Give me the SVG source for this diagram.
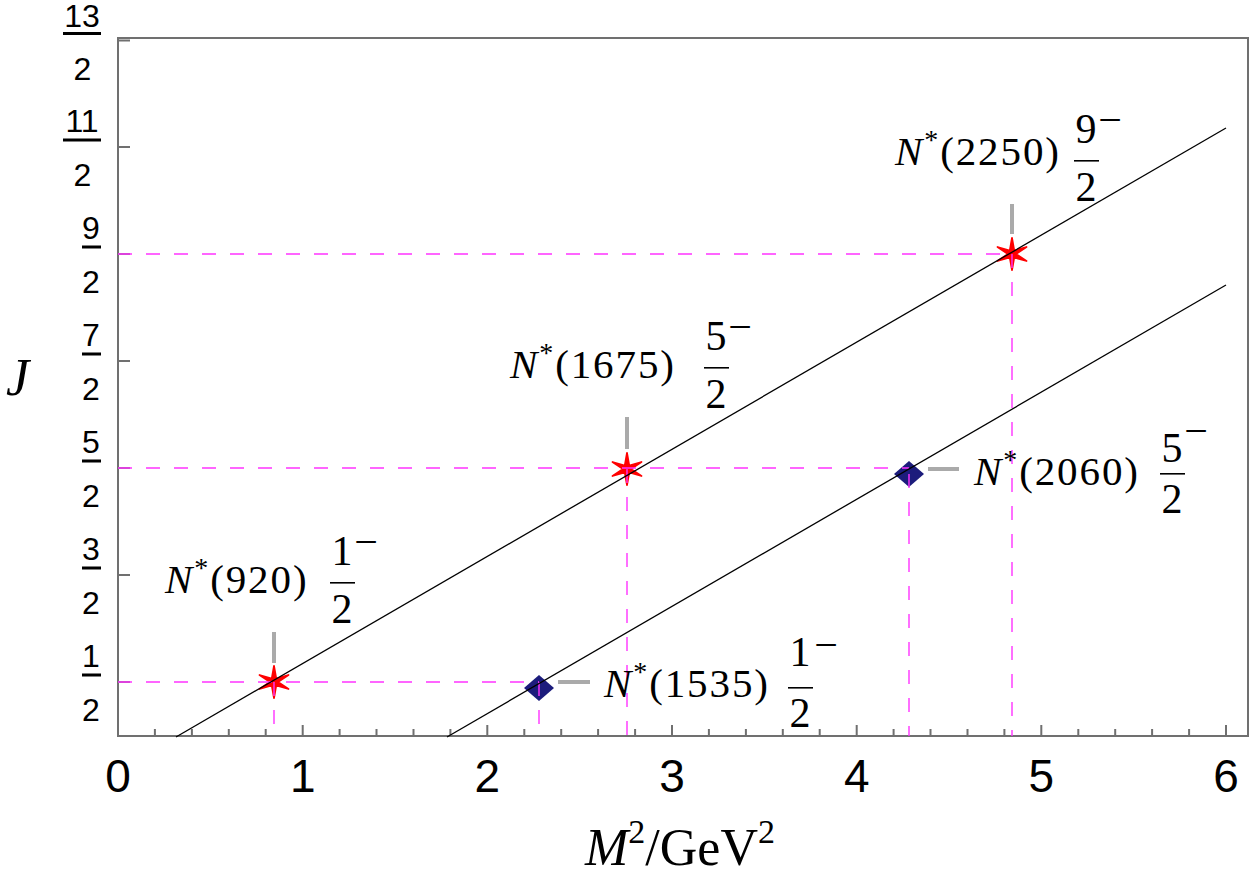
<svg xmlns="http://www.w3.org/2000/svg" width="1250" height="888" viewBox="0 0 1250 888">
<style>
.frame{fill:none;stroke:#707070;stroke-width:2}
.tick{stroke:#707070;stroke-width:2}
.dash{stroke:#ff33ff;stroke-width:1.4;stroke-dasharray:14 14;fill:none}
.fit{stroke:#000;stroke-width:1.3;fill:none}
.lead{stroke:#aaaaaa;stroke-width:4}
.yt{font-family:"Liberation Sans",Arial,sans-serif;font-size:32px;fill:#000;text-anchor:middle}
.xt{font-family:"Liberation Sans",Arial,sans-serif;font-size:46px;fill:#000;text-anchor:middle}
.lbl{font-family:"Liberation Serif","Times New Roman",serif;font-size:41px;letter-spacing:1.9px;fill:#000}
.fr{font-family:"Liberation Serif","Times New Roman",serif;font-size:42px;fill:#000;text-anchor:middle}
.ax{font-family:"Liberation Serif","Times New Roman",serif;font-size:52px;fill:#000}
</style>
<defs>
<path id="star" d="M0,-16 L2.2,-3.5 L14.5,-7 L4,0 L14.5,7 L2.2,3.5 L0,16 L-2.2,3.5 L-14.5,7 L-4,0 L-14.5,-7 L-2.2,-3.5 Z" fill="#ff0000" stroke="#ff0000" stroke-width="1.8" stroke-linejoin="round"/>
<path id="dia" d="M0,-13 L15,0 L0,13 L-15,0 Z" fill="#1c1c7c"/>
</defs>
<rect width="1250" height="888" fill="#fff"/>

<g id="axes">
<rect class="frame" x="118" y="38" width="1130" height="698"/>
<g id="xticks">
<path class="tick" d="M118,736V725M302.7,736V725M487.3,736V725M672,736V725M856.7,736V725M1041.3,736V725M1226,736V725"/>
<path class="tick" d="M154.9,736V729M191.9,736V729M228.8,736V729M265.7,736V729M339.6,736V729M376.5,736V729M413.5,736V729M450.4,736V729M524.3,736V729M561.2,736V729M598.1,736V729M635.1,736V729M708.9,736V729M745.9,736V729M782.8,736V729M819.7,736V729M893.6,736V729M930.5,736V729M967.5,736V729M1004.4,736V729M1078.3,736V729M1115.2,736V729M1152.1,736V729M1189.1,736V729"/>
</g>
<g id="yticks">
<path class="tick" d="M118,682H130M118,575H130M118,468H130M118,361H130M118,254H130M118,147H130M118,40.5H130"/>
</g>
<g id="xlabels">
<text class="xt" x="118" y="792">0</text>
<text class="xt" x="302.7" y="792">1</text>
<text class="xt" x="487.3" y="792">2</text>
<text class="xt" x="672" y="792">3</text>
<text class="xt" x="856.7" y="792">4</text>
<text class="xt" x="1041.3" y="792">5</text>
<text class="xt" x="1226" y="792">6</text>
</g>
<g id="ylabels">
<text class="yt" x="91" y="667">1</text><rect x="82" y="673.5" width="19" height="3"/><text class="yt" x="91" y="721">2</text>
<text class="yt" x="91" y="560">3</text><rect x="82" y="566.5" width="19" height="3"/><text class="yt" x="91" y="614">2</text>
<text class="yt" x="91" y="453">5</text><rect x="82" y="459.5" width="19" height="3"/><text class="yt" x="91" y="507">2</text>
<text class="yt" x="91" y="346">7</text><rect x="82" y="352.5" width="19" height="3"/><text class="yt" x="91" y="400">2</text>
<text class="yt" x="91" y="239">9</text><rect x="82" y="245.5" width="19" height="3"/><text class="yt" x="91" y="293">2</text>
<text class="yt" x="82" y="132">11</text><rect x="63" y="138.5" width="38" height="3"/><text class="yt" x="82.5" y="186">2</text>
<text class="yt" x="82" y="26.5">13</text><rect x="63" y="32" width="38" height="3"/><text class="yt" x="82.5" y="79.5">2</text>
</g>
<text id="ytitle" class="ax" x="6" y="395" font-style="italic">J</text>
<text id="xtitle" class="ax" x="585" y="865"><tspan font-style="italic">M</tspan><tspan dy="-22" font-size="34">2</tspan><tspan dy="22">/GeV</tspan><tspan dy="-22" font-size="34">2</tspan></text>
</g>

<g id="markers">
<g id="m920"><use href="#star" x="274" y="682"/></g>
<g id="m1675"><use href="#star" x="627" y="469"/></g>
<g id="m2250"><use href="#star" x="1012" y="254"/></g>
<g id="m1535"><use href="#dia" x="539" y="688"/></g>
<g id="m2060"><use href="#dia" x="909" y="474"/></g>
</g>

<g id="connectors">
<path class="dash" d="M118,682H539M118,468H909M118,254H1012"/>
<path class="dash" d="M274,682V736M539,682V736M627,469V736M909,474V736M1012,254V736"/>
<path class="fit" d="M176,737L1226,128"/>
<path class="fit" d="M447,737L1226,285"/>
<path class="lead" d="M274,632V663M627,417V449M1012,204V234M558,682H590M928,469H959"/>
</g>

<g id="n920">
<text class="lbl" x="165" y="593"><tspan font-style="italic">N</tspan><tspan dy="-16" font-size="28">*</tspan><tspan dy="16">(920)</tspan></text>
<text class="fr" x="342" y="565">1</text><rect x="330" y="582" width="25" height="1.6"/><text class="fr" x="342" y="623">2</text>
<text class="fr" x="366" y="556" font-size="34">−</text>
</g>
<g id="n1675">
<text class="lbl" x="510" y="378"><tspan font-style="italic">N</tspan><tspan dy="-16" font-size="28">*</tspan><tspan dy="16">(1675)</tspan></text>
<text class="fr" x="716" y="350">5</text><rect x="704" y="367" width="25" height="1.6"/><text class="fr" x="716" y="408">2</text>
<text class="fr" x="740" y="341" font-size="34">−</text>
</g>
<g id="n2250">
<text class="lbl" x="895" y="165"><tspan font-style="italic">N</tspan><tspan dy="-16" font-size="28">*</tspan><tspan dy="16">(2250)</tspan></text>
<text class="fr" x="1086" y="143">9</text><rect x="1074" y="160" width="25" height="1.6"/><text class="fr" x="1086" y="201">2</text>
<text class="fr" x="1110" y="134" font-size="34">−</text>
</g>
<g id="n1535">
<text class="lbl" x="604" y="697"><tspan font-style="italic">N</tspan><tspan dy="-16" font-size="28">*</tspan><tspan dy="16">(1535)</tspan></text>
<text class="fr" x="800" y="666">1</text><rect x="788" y="687" width="25" height="1.6"/><text class="fr" x="800" y="727">2</text>
<text class="fr" x="826" y="659" font-size="34">−</text>
</g>
<g id="n2060">
<text class="lbl" x="974" y="485"><tspan font-style="italic">N</tspan><tspan dy="-16" font-size="28">*</tspan><tspan dy="16">(2060)</tspan></text>
<text class="fr" x="1172" y="462">5</text><rect x="1160" y="473" width="25" height="1.6"/><text class="fr" x="1172" y="513">2</text>
<text class="fr" x="1196" y="445" font-size="34">−</text>
</g>
</svg>
